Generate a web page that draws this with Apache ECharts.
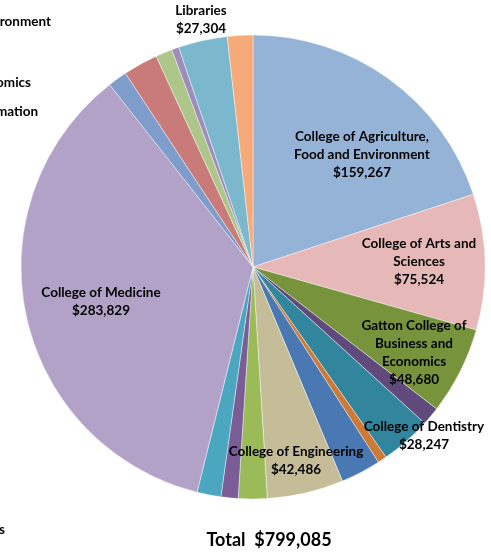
<!DOCTYPE html>
<html>
<head>
<meta charset="utf-8">
<script src="https://cdn.jsdelivr.net/npm/echarts@6/dist/echarts.min.js"></script>
<style>
  html, body { margin: 0; padding: 0; background: #fff; }
  #chart { width: 491px; height: 555px; }
</style>
</head>
<body>
<div id="chart"></div>
<script>
// Slices, clockwise from twelve o'clock
const categories = [
  'College of Agriculture, Food and Environment',
  'College of Arts and Sciences',
  'Gatton College of Business and Economics',
  'College of Communication and Information',
  'College of Dentistry',
  'College of Design',
  'College of Education',
  'College of Engineering',
  'College of Fine Arts',
  'Graduate School',
  'College of Health Sciences',
  'College of Medicine',
  'College of Nursing',
  'College of Pharmacy',
  'College of Public Health',
  'College of Social Work',
  'Libraries',
  'Other Units'
];
const values = [
  159267, 75524, 48680, 10200, 28247, 5000, 22300, 42486, 16000,
  9500, 13300, 283829, 10700, 19300, 9300, 4000, 27304, 14148
];
const colors = [
  '#95b3d7', '#e6b9b8', '#77933c', '#604a7b', '#31859c', '#cc7a36',
  '#4a78b3', '#c4bd97', '#9bbb59', '#7a5c97', '#4ba6c0', '#b3a2c7',
  '#7f9dcb', '#c97b79', '#adc68a', '#9e8cbc', '#7bb8cd', '#f7aa79'
];
// Slices that carry a value label, with their wrapped text
const labelLines = {
  'College of Agriculture, Food and Environment': ['College of Agriculture,', 'Food and Environment'],
  'College of Arts and Sciences': ['College of Arts and', 'Sciences'],
  'Gatton College of Business and Economics': ['Gatton College of', 'Business and', 'Economics'],
  'College of Dentistry': ['College of Dentistry'],
  'College of Engineering': ['College of Engineering'],
  'College of Medicine': ['College of Medicine'],
  'Libraries': ['Libraries']
};
const totalLabel = 'Total';
// Trailing labels of the neighbouring panel, clipped at the left edge
const sideLabels = ['Food and Environment', 'Business and Economics', 'Communication and Information', 'College of Health Sciences'];

// Label anchor points (centre of text block)
const labelPos = {
  'College of Agriculture, Food and Environment': [362, 155],
  'College of Arts and Sciences': [419, 262],
  'Gatton College of Business and Economics': [414, 353],
  'College of Dentistry': [424, 436],
  'College of Engineering': [296, 461],
  'College of Medicine': [101, 302],
  'Libraries': [201, 20]
};
const sidePos = [[51, 22], [31, 83], [38, 112], [5, 530]];

const fmt = v => '$' + v.toLocaleString('en-US');
const total = values.reduce((a, b) => a + b, 0);
const FONT = 'Lato, "Open Sans", sans-serif';

const data = categories.map((name, i) => {
  const item = { name, value: values[i], itemStyle: { color: colors[i] } };
  if (labelLines[name]) {
    item.label = { show: true, formatter: labelLines[name].join('\n') + '\n' + fmt(values[i]) };
  }
  return item;
});

const chart = echarts.init(document.getElementById('chart'), null, { renderer: 'canvas' });
chart.setOption({
  animation: false,
  series: [{
    type: 'pie',
    center: [253, 267],
    radius: 232,
    startAngle: 90,
    clockwise: true,
    avoidLabelOverlap: false,
    itemStyle: { borderColor: 'rgba(255,255,255,0.7)', borderWidth: 0.6 },
    label: {
      show: false,
      position: 'inside',
      color: '#000',
      fontFamily: FONT,
      fontWeight: 'bold',
      fontSize: 13.5,
      lineHeight: 18,
      align: 'center'
    },
    labelLine: { show: false },
    labelLayout: p => {
      const pos = labelPos[categories[p.dataIndex]];
      if (!pos) return {};
      return { x: pos[0], y: pos[1], align: 'center', verticalAlign: 'middle' };
    },
    data
  }],
  graphic: [
    {
      type: 'text',
      position: [269, 540],
      style: {
        text: totalLabel + '  ' + fmt(total),
        fill: '#000',
        font: 'bold 18px ' + FONT,
        textAlign: 'center',
        textVerticalAlign: 'middle'
      }
    }
  ].concat(sideLabels.map((t, i) => ({
    type: 'text',
    position: sidePos[i],
    style: {
      text: t,
      fill: '#000',
      font: 'bold 13.5px ' + FONT,
      textAlign: 'right',
      textVerticalAlign: 'middle'
    }
  })))
});
</script>
</body>
</html>
